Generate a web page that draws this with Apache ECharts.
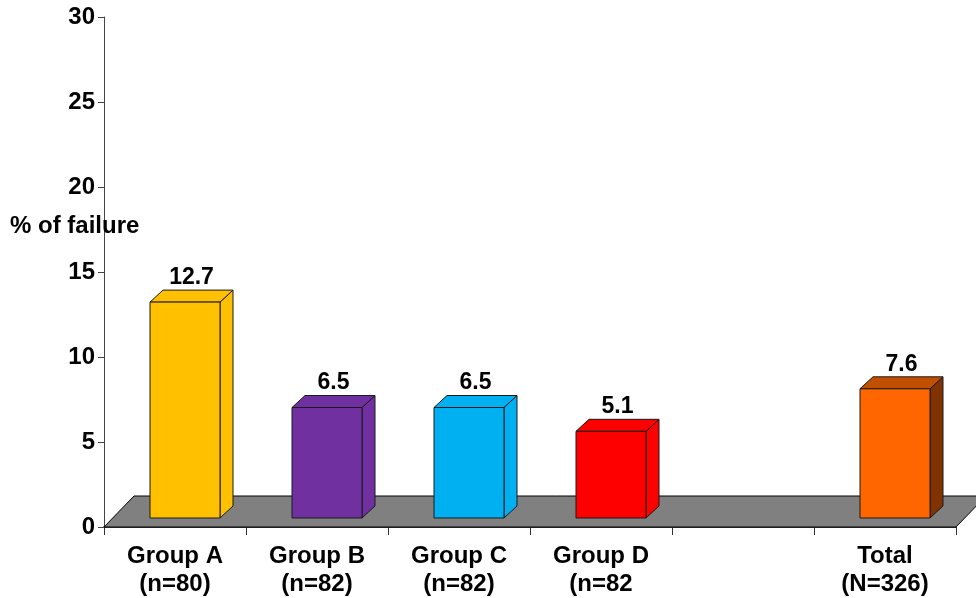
<!DOCTYPE html>
<html>
<head>
<meta charset="utf-8">
<script src="https://cdn.jsdelivr.net/npm/echarts@6/dist/echarts.min.js"></script>
<style>
  html, body { margin: 0; padding: 0; background: #fff; }
  #chart { width: 976px; height: 598px; }
</style>
</head>
<body>
<div id="chart"></div>
<script>
// data
const categories = ['Group A\n(n=80)', 'Group B\n(n=82)', 'Group C\n(n=82)', 'Group D\n(n=82', '', 'Total\n(N=326)']
const failureRates = [12.7, 6.5, 6.5, 5.1, null, 7.6]
const yMin = 0
const yMax = 30
const yStep = 5

// face colours per bar: front, top, side
const frontColors = ['#FFC000', '#7030A0', '#00B0F0', '#FF0000', '#FFFFFF', '#FF6600']
const topColors = ['#FFC000', '#7030A0', '#00B0F0', '#FF0000', '#FFFFFF', '#C05000']
const sideColors = ['#FFC000', '#7030A0', '#00B0F0', '#FF0000', '#FFFFFF', '#803300']

const FONT = "'Liberation Sans', Arial, sans-serif"

const chart = echarts.init(document.getElementById('chart'))

// gray floor under the bars
function renderFloor(params, api) {
  const cs = params.coordSys
  const y = cs.y + cs.height
  const depthX = 30
  const depthY = 31
  return {
    type: 'polygon',
    shape: {
      points: [
        [cs.x, y],
        [cs.x + cs.width, y],
        [cs.x + cs.width + depthX, y - depthY],
        [cs.x + depthX, y - depthY]
      ]
    },
    style: { fill: '#808080', stroke: '#000', lineWidth: 1 }
  }
}

// pseudo 3d box bars
function renderBar(params, api) {
  const idx = api.value(0)
  const val = api.value(1)
  if (val == null || isNaN(val)) return
  const base = api.coord([idx, 0])
  const top = api.coord([idx, val])
  const band = api.size([1, 0])[0]
  const lift = 9
  const dx = 13
  const dy = 12
  const w = band * 0.493
  const x0 = base[0] - band * 0.176
  const x1 = x0 + w
  const y0 = base[1] - lift
  const y1 = top[1] - lift
  const line = { stroke: '#1a1a1a', lineWidth: 1 }
  return {
    type: 'group',
    children: [
      {
        type: 'polygon',
        shape: { points: [[x1, y1], [x1 + dx, y1 - dy], [x1 + dx, y0 - dy], [x1, y0]] },
        style: Object.assign({ fill: sideColors[idx] }, line)
      },
      {
        type: 'polygon',
        shape: { points: [[x0, y1], [x0 + dx, y1 - dy], [x1 + dx, y1 - dy], [x1, y1]] },
        style: Object.assign({ fill: topColors[idx] }, line)
      },
      {
        type: 'rect',
        shape: { x: x0, y: y1, width: w, height: y0 - y1 },
        style: Object.assign({ fill: frontColors[idx] }, line)
      },
      {
        type: 'text',
        style: {
          text: String(val),
          x: (x0 + x1 + dx) / 2,
          y: y1 - dy - 1,
          align: 'center',
          verticalAlign: 'bottom',
          font: 'bold 23px ' + FONT,
          fill: '#000'
        }
      }
    ]
  }
}

const option = {
  animation: false,
  backgroundColor: '#fff',
  grid: {
    left: 104,
    right: 20,
    top: 17,
    bottom: 71
  },
  xAxis: {
    type: 'category',
    data: categories,
    axisLine: { lineStyle: { color: '#000', width: 1.5 } },
    axisTick: { show: true, interval: 0, length: 8, lineStyle: { color: '#333' } },
    axisLabel: {
      interval: 0,
      margin: 15,
      color: '#000',
      fontFamily: FONT,
      fontWeight: 'bold',
      fontSize: 24,
      lineHeight: 28
    }
  },
  yAxis: {
    type: 'value',
    min: yMin,
    max: yMax,
    interval: yStep,
    splitLine: { show: false },
    axisLine: { show: true, lineStyle: { color: '#444', width: 1 } },
    axisTick: { show: true, length: 6, lineStyle: { color: '#444' } },
    axisLabel: {
      margin: 9,
      color: '#000',
      fontFamily: FONT,
      fontWeight: 'bold',
      fontSize: 24
    }
  },
  graphic: [
    {
      type: 'text',
      left: 10,
      top: 214,
      z: 10,
      style: {
        text: '% of failure',
        font: 'bold 24px ' + FONT,
        fill: '#000'
      }
    }
  ],
  series: [
    {
      type: 'custom',
      name: 'floor',
      clip: false,
      z: 1,
      renderItem: renderFloor,
      data: [[0, 0]]
    },
    {
      type: 'custom',
      name: '% of failure',
      clip: false,
      z: 3,
      renderItem: renderBar,
      encode: { x: 0, y: 1 },
      data: failureRates.map((v, i) => [i, v == null ? NaN : v])
    }
  ]
}

chart.setOption(option)
</script>
</body>
</html>
